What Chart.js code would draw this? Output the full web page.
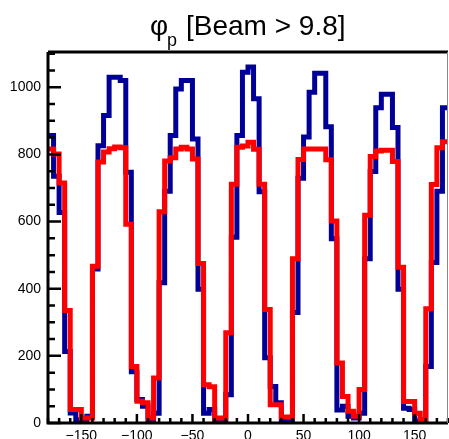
<!DOCTYPE html>
<html>
<head>
<meta charset="utf-8">
<script src="https://cdn.jsdelivr.net/npm/chart.js@4.4.1/dist/chart.umd.min.js"></script>
<style>
  html, body { margin: 0; padding: 0; background: #fff; }
  canvas { display: block; }
</style>
</head>
<body>
<canvas id="phiChart" width="449" height="439"></canvas>
<script>
// lower edge of each 5 degree bin
const binLow = [
  -180, -175, -170, -165, -160, -155, -150, -145, -140, -135, -130, -125,
  -120, -115, -110, -105, -100, -95, -90, -85, -80, -75, -70, -65,
  -60, -55, -50, -45, -40, -35, -30, -25, -20, -15, -10, -5,
  0, 5, 10, 15, 20, 25, 30, 35, 40, 45, 50, 55,
  60, 65, 70, 75, 80, 85, 90, 95, 100, 105, 110, 115,
  120, 125, 130, 135, 140, 145, 150, 155, 160, 165, 170, 175
];
const lastEdge = 180;

// blue histogram
const countsBlue = [
  856, 735, 627, 213, 30, 10, 10, 20, 459, 826, 916, 1030,
  1030, 1020, 747, 153, 70, 50, 10, 29, 418, 690, 856, 995,
  1020, 1020, 846, 398, 29, 40, 10, 10, 84, 553, 856, 1045,
  1060, 966, 689, 194, 109, 60, 10, 10, 329, 729, 852, 985,
  1042, 1042, 882, 549, 39, 50, 20, 15, 29, 489, 749, 939,
  979, 979, 880, 398, 44, 40, 5, 10, 168, 478, 690, 939
];

// red histogram
const countsRed = [
  816, 801, 715, 335, 40, 40, 15, 15, 467, 777, 807, 817,
  822, 820, 592, 168, 65, 60, 15, 134, 629, 780, 790, 816,
  821, 816, 786, 475, 114, 108, 15, 15, 269, 711, 821, 825,
  836, 815, 711, 338, 54, 54, 18, 18, 489, 785, 816, 816,
  816, 816, 784, 602, 179, 79, 35, 20, 100, 619, 794, 810,
  812, 812, 779, 464, 64, 64, 29, 10, 340, 710, 820, 838
];

const xTickValues = [-150, -100, -50, 0, 50, 100, 150];
const yTickValues = [0, 200, 400, 600, 800, 1000];

// histogram outline: one point per bin edge, last value repeated at the end
function toSteps(counts) {
  const pts = binLow.map((x, i) => ({ x: x, y: counts[i] }));
  pts.push({ x: lastEdge, y: counts[counts.length - 1] });
  return pts;
}

// ROOT style frame with ticks pointing inside
const frameTicks = {
  id: 'frameTicks',
  afterDatasetsDraw(chart) {
    const { ctx, chartArea: a, scales: { x, y } } = chart;
    ctx.save();
    ctx.strokeStyle = '#000';
    ctx.lineWidth = 2.5;
    ctx.beginPath();
    for (let v = -180; v <= 180; v += 10) {
      const px = x.getPixelForValue(v);
      const len = v % 50 === 0 ? 9 : 5;
      ctx.moveTo(px, a.bottom);
      ctx.lineTo(px, a.bottom - len);
    }
    for (let v = 0; v <= y.max; v += 50) {
      const py = y.getPixelForValue(v);
      const len = v % 200 === 0 ? 13 : 7;
      ctx.moveTo(a.left, py);
      ctx.lineTo(a.left + len, py);
    }
    ctx.stroke();

    // frame
    ctx.lineWidth = 3;
    ctx.beginPath();
    ctx.moveTo(a.left, a.top);
    ctx.lineTo(a.left, a.bottom);
    ctx.lineTo(a.right, a.bottom);
    ctx.moveTo(a.left, a.top);
    ctx.lineTo(a.right, a.top);
    ctx.stroke();
    ctx.strokeStyle = '#888';
    ctx.lineWidth = 1;
    ctx.beginPath();
    ctx.moveTo(a.right - 0.5, a.top);
    ctx.lineTo(a.right - 0.5, a.bottom);
    ctx.stroke();
    ctx.restore();
  }
};

// title with subscript
const phiTitle = {
  id: 'phiTitle',
  afterDraw(chart) {
    const ctx = chart.ctx;
    ctx.save();
    ctx.fillStyle = '#000';
    ctx.textBaseline = 'alphabetic';
    ctx.textAlign = 'left';
    ctx.font = '28px "Liberation Sans", Arial, sans-serif';
    ctx.fillText('\u03C6', 150, 35);
    ctx.font = '18px "Liberation Sans", Arial, sans-serif';
    ctx.fillText('p', 167, 46);
    ctx.font = '28px "Liberation Sans", Arial, sans-serif';
    ctx.fillText('[Beam > 9.8]', 186, 35);
    ctx.restore();
  }
};

const tickFont = { family: '"Liberation Sans", Arial, sans-serif', size: 14 };

new Chart(document.getElementById('phiChart'), {
  type: 'line',
  data: {
    datasets: [
      {
        label: 'red',
        data: toSteps(countsRed),
        borderColor: '#ff0000',
        borderWidth: 5,
        stepped: 'before', // horizontal over the bin, then vertical at its upper edge
        pointRadius: 0,
        fill: false,
        borderJoinStyle: 'miter',
        borderCapStyle: 'butt'
      },
      {
        label: 'blue',
        data: toSteps(countsBlue),
        borderColor: '#000099',
        borderWidth: 5,
        stepped: 'before',
        pointRadius: 0,
        fill: false,
        borderJoinStyle: 'miter',
        borderCapStyle: 'butt'
      }
    ]
  },
  options: {
    responsive: false,
    animation: false,
    devicePixelRatio: 1,
    layout: { padding: { top: 52, right: 1, left: 0, bottom: 0 } },
    plugins: {
      legend: { display: false },
      title: { display: false },
      tooltip: { enabled: false }
    },
    scales: {
      x: {
        type: 'linear',
        min: -180,
        max: 180,
        grid: { display: false, drawTicks: false },
        border: { display: false },
        afterBuildTicks: s => { s.ticks = xTickValues.map(v => ({ value: v })); },
        afterFit: s => { s.height = 16; },
        ticks: {
          color: '#000',
          font: tickFont,
          padding: 5,
          maxRotation: 0,
          callback: v => (v < 0 ? '\u2212' + Math.abs(v) : String(v))
        }
      },
      y: {
        min: 0,
        max: 1105,
        grid: { display: false, drawTicks: false },
        border: { display: false },
        afterBuildTicks: s => { s.ticks = yTickValues.map(v => ({ value: v })); },
        afterFit: s => { s.width = 48; },
        ticks: {
          color: '#000',
          font: tickFont,
          padding: 7,
          callback: v => String(v)
        }
      }
    }
  },
  plugins: [frameTicks, phiTitle]
});
</script>
</body>
</html>
